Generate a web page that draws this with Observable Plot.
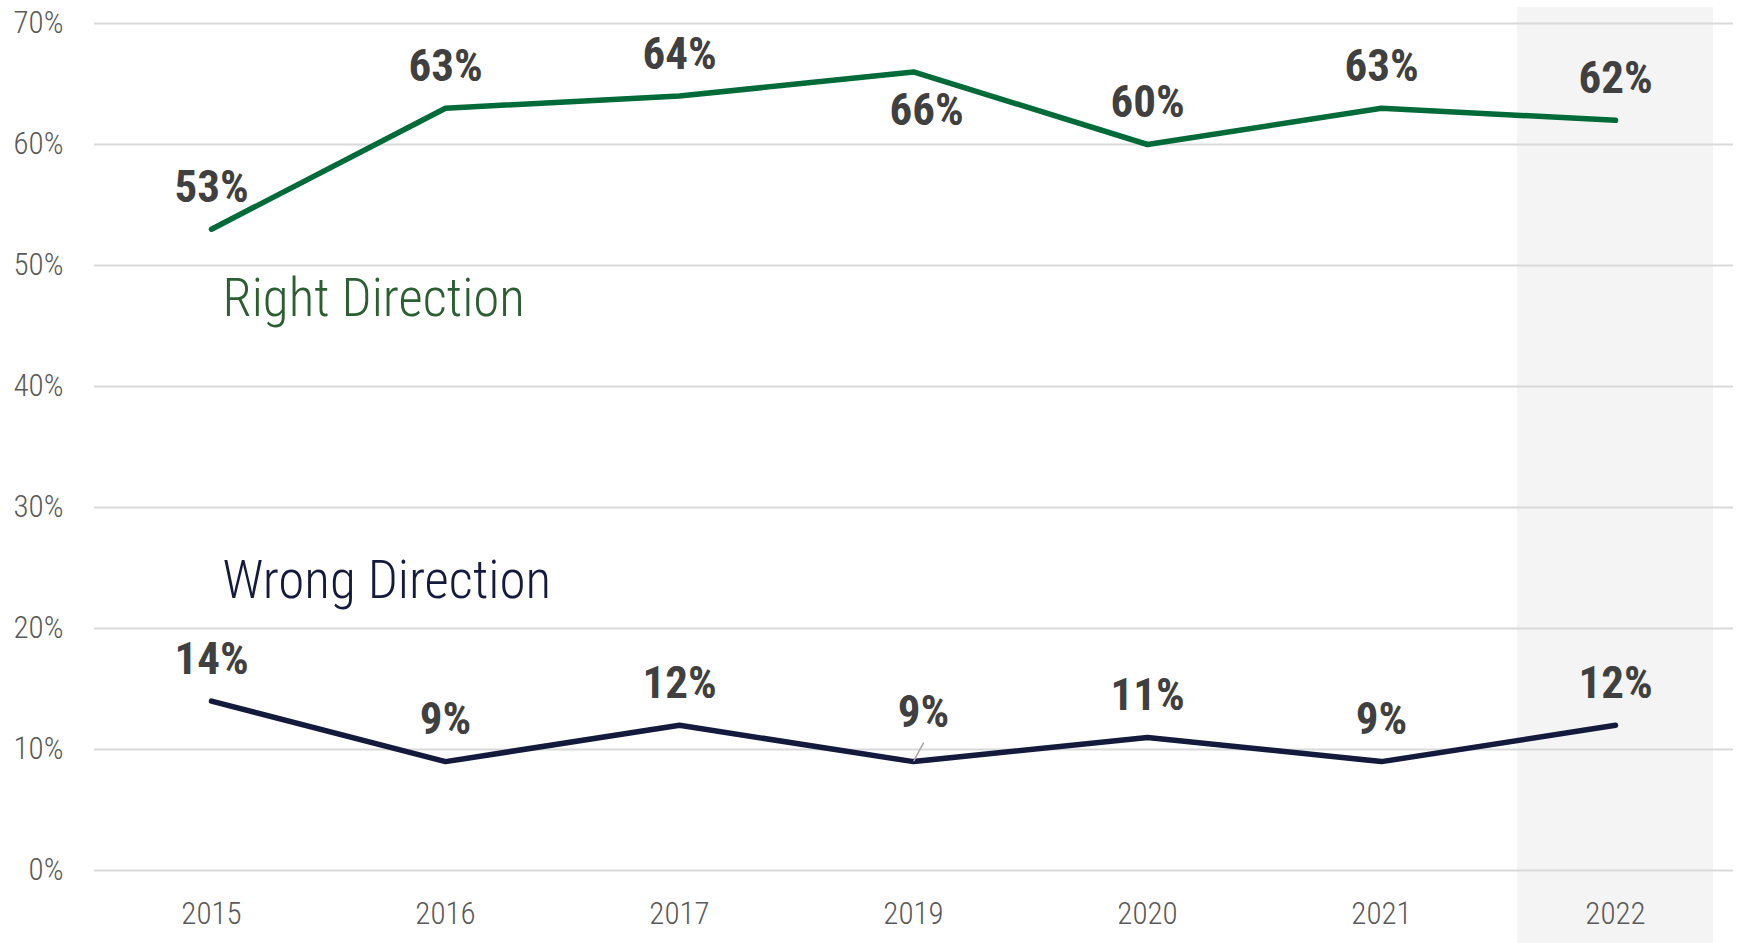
<!DOCTYPE html>
<html><head><meta charset="utf-8">
<script src="https://cdn.jsdelivr.net/npm/d3@7"></script>
<script src="https://cdn.jsdelivr.net/npm/@observablehq/plot@0.6"></script>
<style>html,body{margin:0;padding:0;background:#fff}</style>
</head><body>
<div id="chart"></div>
<script>
const years = ["2015", "2016", "2017", "2019", "2020", "2021", "2022"];
const rightDirection = [53, 63, 64, 66, 60, 63, 62];
const wrongDirection = [14, 9, 12, 9, 11, 9, 12];
const yTicks = [0, 10, 20, 30, 40, 50, 60, 70];
const highlightYear = ["2022"];
const seriesNames = ["Right Direction", "Wrong Direction"];

const rows = years.flatMap((year, i) => [
  {year, series: seriesNames[0], value: rightDirection[i]},
  {year, series: seriesNames[1], value: wrongDirection[i]}
]);
const rightRows = rows.filter(d => d.series === seriesNames[0]);
const wrongRows = rows.filter(d => d.series === seriesNames[1]);

const GREEN = "#006a38", NAVY = "#131a3c", LABEL = "#404040";
const isSpecial = d => d.year === "2019";

const chart = Plot.plot({
  width: 1740,
  height: 943,
  marginTop: 23,
  marginBottom: 73,
  marginLeft: 94,
  marginRight: 7,
  style: {fontFamily: "'Roboto Condensed', Roboto, sans-serif", fontSize: "31px", fontWeight: 300, color: "#595959", background: "#fff"},
  x: {type: "band", domain: years, paddingInner: 0.161, paddingOuter: 0.0746, label: null},
  y: {domain: [0, 70], label: null},
  marks: [
    Plot.barY(highlightYear, {x: d => d, y1: 0, y2: 70, fill: "#f4f4f4", insetTop: -16, insetBottom: -73}),
    Plot.gridY(yTicks, {stroke: "#d9d9d9", strokeOpacity: 1, strokeWidth: 2}),
    Plot.axisY({ticks: yTicks, tickFormat: d => d + "%", tickSize: 0, tickPadding: 31, label: null}),
    Plot.axisX({tickSize: 0, tickPadding: 31, label: null}),
    Plot.line(rightRows, {x: "year", y: "value", stroke: GREEN, strokeWidth: 5.5, strokeLinecap: "round", strokeLinejoin: "miter"}),
    Plot.line(wrongRows, {x: "year", y: "value", stroke: NAVY, strokeWidth: 5.5, strokeLinecap: "round", strokeLinejoin: "miter"}),
    // value labels
    Plot.text(rows.filter(d => !isSpecial(d)), {x: "year", y: "value", text: d => d.value + "%", dy: -42, fill: LABEL, fontSize: 45, fontWeight: 700}),
    Plot.text(rightRows.filter(isSpecial), {x: "year", y: "value", text: d => d.value + "%", dx: 13, dy: 39, fill: LABEL, fontSize: 45, fontWeight: 700}),
    Plot.text(wrongRows.filter(isSpecial), {x: "year", y: "value", text: d => d.value + "%", dx: 10, dy: -49, fill: LABEL, fontSize: 45, fontWeight: 700}),
    Plot.vector(wrongRows.filter(isSpecial), {x: "year", y: "value", anchor: "start", length: 21, rotate: 28, stroke: "#a6a6a6", strokeWidth: 1.5,
      shape: {draw(context, l) { context.moveTo(0, -1); context.lineTo(0, -l); }}}),
    // series labels
    Plot.text([seriesNames[0]], {frameAnchor: "top-left", text: d => d, dx: 128, dy: 292, textAnchor: "start", lineAnchor: "bottom", fill: "#2b5e30", fontSize: 53, fontWeight: 300}),
    Plot.text([seriesNames[1]], {frameAnchor: "top-left", text: d => d, dx: 128, dy: 574, textAnchor: "start", lineAnchor: "bottom", fill: NAVY, fontSize: 53, fontWeight: 300})
  ]
});
document.getElementById("chart").append(chart);
</script>
</body></html>
